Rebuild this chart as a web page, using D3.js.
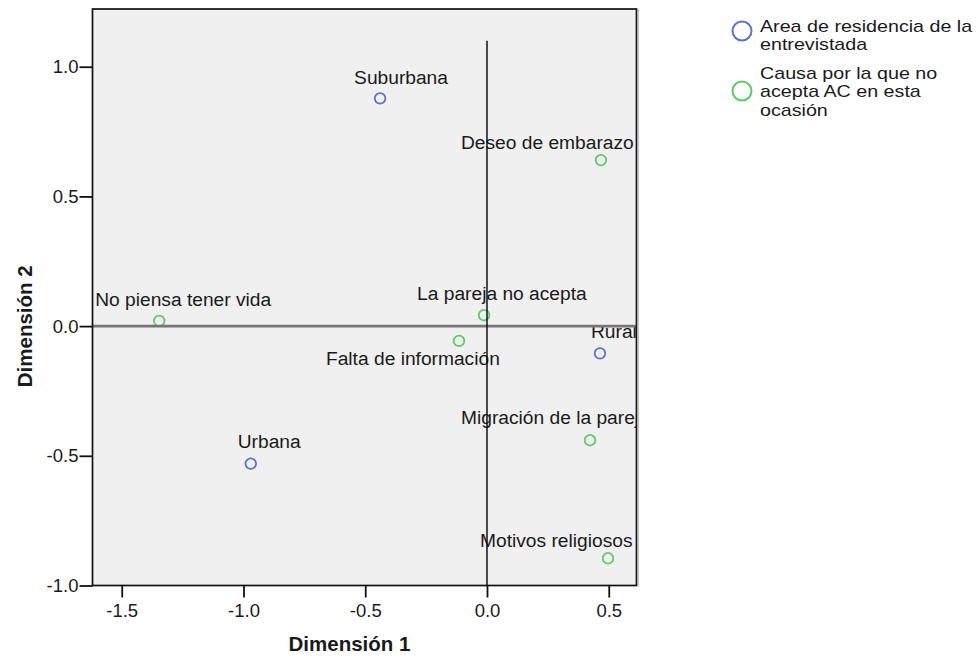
<!DOCTYPE html>
<html>
<head>
<meta charset="utf-8">
<script src="https://cdn.jsdelivr.net/npm/d3@7"></script>
<style>
  html, body { margin: 0; padding: 0; background: #ffffff; }
  svg { display: block; }
  text { font-family: "Liberation Sans", Arial, sans-serif; fill: #1a1a1a; }
</style>
</head>
<body>
<svg id="chart" width="979" height="664"></svg>
<script>
// ---- data ----
const categories = ["Suburbana", "Deseo de embarazo", "No piensa tener vida", "La pareja no acepta",
  "Falta de información", "Rural", "Migración de la pareja", "Urbana", "Motivos religiosos"];
const groups = ["Area", "Causa", "Causa", "Causa", "Causa", "Area", "Causa", "Area", "Causa"];
const dim1 = [-0.439, 0.468, -1.346, -0.012, -0.115, 0.464, 0.423, -0.970, 0.497];
const dim2 = [0.878, 0.640, 0.020, 0.042, -0.057, -0.105, -0.440, -0.530, -0.895];
const xTicks = [-1.5, -1.0, -0.5, 0.0, 0.5];
const yTicks = [-1.0, -0.5, 0.0, 0.5, 1.0];
const legendGroups = ["Area", "Causa"];
const legendLabels = [["Area de residencia de la", "entrevistada"], ["Causa por la que no", "acepta AC en esta", "ocasión"]];

// ---- layout (label offsets in px relative to point) ----
const labelDx = [-26, -140, -64, -67, -133, -9, -129, -13, -128];
const labelDy = [-21, -18, -22, -22, 17, -22, -23, -22, -18];

const svg = d3.select("#chart");
const m = { left: 92.5, top: 9, right: 636.5, bottom: 585.5 };
const x = d3.scaleLinear().domain([-1.62, 0.614]).range([m.left, m.right]);
const y = d3.scaleLinear().domain([-1.0, 1.2225]).range([m.bottom, m.top]);
const color = d3.scaleOrdinal().domain(legendGroups).range(["#5b72c8", "#5ccb68"]);
const fmt = d => d3.format(".1f")(d).replace("\u2212", "-");

// plot background
svg.append("rect").attr("x", m.left).attr("y", m.top)
  .attr("width", m.right - m.left).attr("height", m.bottom - m.top)
  .attr("fill", "#f0f0f0");

svg.append("clipPath").attr("id", "clip").append("rect")
  .attr("x", m.left).attr("y", m.top).attr("width", m.right - m.left).attr("height", m.bottom - m.top);

const plot = svg.append("g").attr("clip-path", "url(#clip)");

// labels
plot.selectAll("text.lbl").data(categories).join("text")
  .attr("class", "lbl")
  .attr("x", (d, i) => x(dim1[i]) + labelDx[i])
  .attr("y", (d, i) => y(dim2[i]) + labelDy[i])
  .attr("dy", "0.36em")
  .attr("font-size", "19.2px")
  .text(d => d);

// points
plot.selectAll("circle.pt").data(categories).join("circle")
  .attr("class", "pt")
  .attr("cx", (d, i) => x(dim1[i]))
  .attr("cy", (d, i) => y(dim2[i]))
  .attr("r", 5.3)
  .attr("fill", "none")
  .attr("stroke", (d, i) => color(groups[i]))
  .attr("stroke-width", 1.8);

// reference lines
plot.append("line")
  .attr("x1", m.left).attr("x2", m.right)
  .attr("y1", y(0)).attr("y2", y(0))
  .attr("stroke", "#777777").attr("stroke-width", 2.6);
plot.append("line")
  .attr("x1", x(0)).attr("x2", x(0))
  .attr("y1", y(1.1)).attr("y2", y(-1.0))
  .attr("stroke", "#111111").attr("stroke-width", 1.5);

// axes
const xAxis = svg.append("g").attr("transform", `translate(0,${m.bottom})`)
  .call(d3.axisBottom(x).tickValues(xTicks).tickFormat(fmt).tickSize(12).tickPadding(6));
const yAxis = svg.append("g").attr("transform", `translate(${m.left},0)`)
  .call(d3.axisLeft(y).tickValues(yTicks).tickFormat(fmt).tickSize(13).tickPadding(1));
[xAxis, yAxis].forEach(g => {
  g.select(".domain").remove();
  g.selectAll(".tick line").attr("stroke", "#111").attr("stroke-width", 1.8);
  g.selectAll(".tick text").attr("font-size", "18.5px").attr("fill", "#1a1a1a")
    .attr("font-family", "'Liberation Sans', Arial, sans-serif");
});

// border
svg.append("rect").attr("x", m.left).attr("y", m.top)
  .attr("width", m.right - m.left).attr("height", m.bottom - m.top)
  .attr("fill", "none").attr("stroke", "#111").attr("stroke-width", 1.7);
svg.append("line").attr("x1", m.right + 1.8).attr("x2", m.right + 1.8)
  .attr("y1", m.top).attr("y2", m.bottom + 1)
  .attr("stroke", "#bbbbbb").attr("stroke-width", 1.2);

// axis titles
svg.append("text").attr("x", (m.left + m.right) / 2 - 15).attr("y", 651)
  .attr("text-anchor", "middle").attr("font-size", "20.5px").attr("font-weight", "bold")
  .text("Dimensión 1");
svg.append("text").attr("transform", `translate(32,${(m.top + m.bottom) / 2 + 29}) rotate(-90)`)
  .attr("text-anchor", "middle").attr("font-size", "20.5px").attr("font-weight", "bold")
  .text("Dimensión 2");

// legend
const legY = [31, 91];
const legTextTop = [26, 73];
legendGroups.forEach((g, i) => {
  svg.append("circle").attr("cx", 742).attr("cy", legY[i]).attr("r", 9.5)
    .attr("fill", "none").attr("stroke", color(g)).attr("stroke-width", 2);
  legendLabels[i].forEach((line, j) => {
    svg.append("text")
      .attr("transform", `translate(760,${legTextTop[i] + j * 18.5}) scale(1.2,1)`)
      .attr("dy", "0.36em")
      .attr("font-size", "16.4px").text(line);
  });
});
</script>
</body>
</html>
